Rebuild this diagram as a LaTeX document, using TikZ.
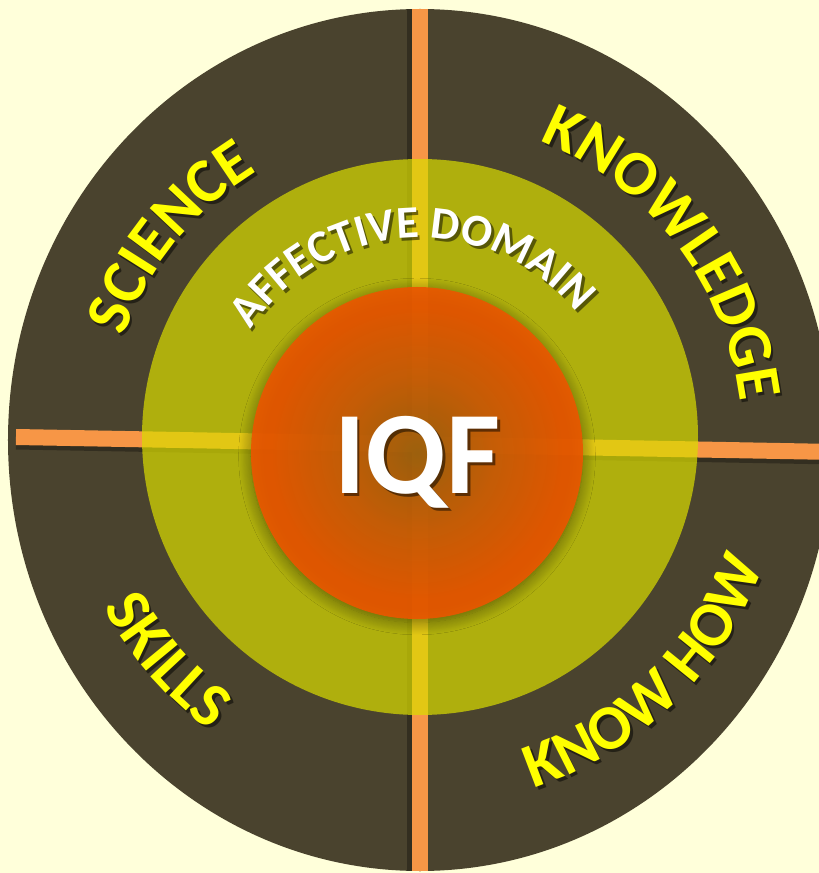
\documentclass[tikz,border=0pt]{standalone}
\usepackage{fontspec}
\setmainfont{Carlito}
\usetikzlibrary{decorations.text,shadows.blur}

\definecolor{bgcream}{RGB}{255,255,218}
\definecolor{ringdark}{RGB}{74,67,46}
\definecolor{barorange}{RGB}{247,150,70}
\definecolor{domainolive}{RGB}{218,221,0}
\definecolor{iqfcore}{RGB}{160,95,14}
\definecolor{iqfmid}{RGB}{208,92,6}
\definecolor{iqfedge}{RGB}{236,86,0}
\definecolor{labelyellow}{RGB}{255,255,0}

\pgfdeclareradialshading{iqfglow}{\pgfpoint{0bp}{0bp}}{color(0bp)=(iqfcore); color(12bp)=(iqfmid); color(22bp)=(iqfedge); color(50bp)=(iqfedge)}

\newcommand\ringfont{\fontsize{36}{40}\selectfont\bfseries}
\newcommand\domainfont{\fontsize{26}{30}\selectfont\bfseries}

\tikzset{
  bar/.style={line width=.32cm},
  arclabel/.style={decorate, decoration={text along path, text align=center, text={#1}}}
}

\begin{document}
\begin{tikzpicture}
\useasboundingbox[fill=bgcream] (-8.4,-8.66) rectangle (7.98,8.8);

% outer ring
\fill[ringdark] (0,0) ellipse [x radius=8.24, y radius=8.62];

% the cross
\coordinate (top) at (0,8.8);
\coordinate (bottom) at (0,-8.8);
\coordinate (left) at (-8.08,0.06);
\coordinate (right) at (8.3,-0.24);
\begin{scope}
\clip (0,0) ellipse [x radius=8.24, y radius=8.62];
\draw[bar, black, opacity=.3] ([xshift=-.09cm]top) -- ([xshift=-.09cm]bottom);
\draw[bar, black, opacity=.3] ([yshift=-.09cm]left) -- ([yshift=-.09cm]right);
\draw[bar, barorange] (top) -- (bottom);
\draw[bar, barorange] (left) -- (right);
\end{scope}

% affective domain ring
\fill[domainolive, fill opacity=.7] (0,0.06) circle (5.56);

% core
\path[blur shadow={shadow xshift=0pt, shadow yshift=-2pt, shadow blur radius=7pt, shadow blur steps=14, shadow opacity=45}] (-0.06,-0.26) circle (3.32);
\shade[shading=iqfglow, fill opacity=.9] (-0.06,-0.26) circle (3.32);

% labels, shadow first
\foreach \dx/\dy/\col/\dcol/\op in {.05/-.06/black/black/.5, 0/0/labelyellow/white/1}{
  \begin{scope}[shift={(\dx,\dy)}, opacity=\op]
    \path[arclabel={|\ringfont\color{\col}|SCIENCE}] (176:6.28) arc[start angle=176, end angle=106, radius=6.28];
    \path[arclabel={|\ringfont\color{\col}|KNOWLEDGE}] (75:6.44) arc[start angle=75, end angle=0, radius=6.44];
    \path[arclabel={|\ringfont\color{\col}|SKILLS}] (191:7.16) arc[start angle=191, end angle=251, radius=7.16];
    \path[arclabel={|\ringfont\color{\col}|KNOW HOW}] (279:7.32) arc[start angle=279, end angle=349, radius=7.32];
    \path[arclabel={|\domainfont\color{\dcol}|AFFECTIVE DOMAIN}] (163:4.04) arc[start angle=163, end angle=23, radius=4.04];
    \node[anchor=base, text=\dcol, font=\fontsize{67}{70}\selectfont\bfseries] (iqf) at (-0.05,-1.06) {IQF};
  \end{scope}
}
\end{tikzpicture}
\end{document}
